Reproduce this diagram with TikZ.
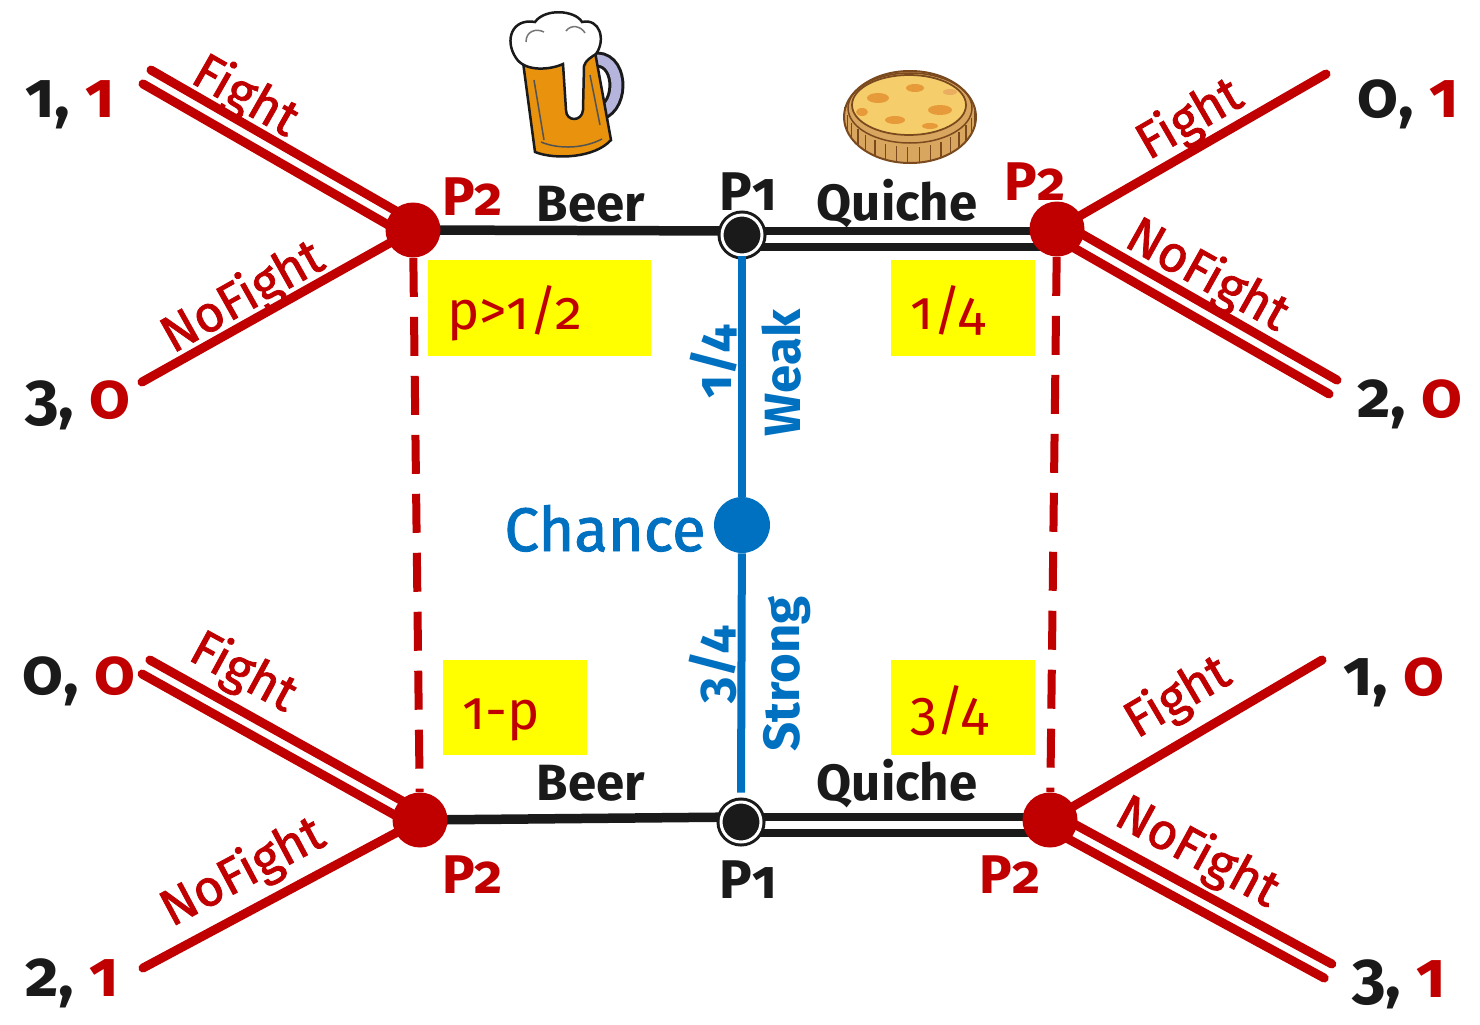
\documentclass[tikz,border=0pt]{standalone}
\usepackage{fontspec}
\setmainfont[Numbers=OldStyle]{Fira Sans}
\newfontfamily\semib[Numbers=OldStyle,FakeBold=1.5]{Fira Sans}
\usetikzlibrary{calc}
\pgfdeclarelayer{bg}
\pgfsetlayers{bg,main}

\definecolor{dred}{HTML}{C00000}
\definecolor{cblue}{HTML}{0070C0}
\definecolor{ink}{HTML}{1A1A1A}
\definecolor{hilite}{HTML}{FFFF00}
\definecolor{ale}{HTML}{E8920E}
\definecolor{alehandle}{HTML}{B4B4DC}
\definecolor{crust}{HTML}{D9A660}
\definecolor{crustdark}{HTML}{7A4A1E}
\definecolor{filling}{HTML}{F5CD6A}
\definecolor{browned}{HTML}{E69A3A}

\newcommand\fsz[1]{\fontsize{#1}{#1}\selectfont}
% two parallel strokes between a node centre and a free end
\newcommand\pairline[2]{%
  \draw[rline] ($(#1.center)!0.16cm!90:(#2)$) -- ($(#2)!0.16cm!-90:(#1.center)$);
  \draw[rline] ($(#1.center)!0.16cm!-90:(#2)$) -- ($(#2)!0.16cm!90:(#1.center)$);}

\begin{document}
\begin{tikzpicture}[x=0.02cm,y=-0.02cm,
  signal/.style={circle,fill=dred,minimum size=1.1cm,inner sep=0pt},
  sender/.style={circle,fill=ink,draw=ink,double=white,double distance=0.06cm,
                 line width=0.06cm,minimum size=0.8cm,inner sep=0pt},
  nature/.style={circle,fill=cblue,minimum size=1.12cm,inner sep=0pt},
  blk/.style={draw=ink,line width=0.19cm},
  blk2/.style={draw=ink,line width=0.17cm},
  rline/.style={draw=dred,line width=0.18cm,line cap=round},
  info/.style={draw=dred,line width=0.16cm,dash pattern=on 0.78cm off 0.4cm},
  bline/.style={draw=cblue,line width=0.16cm},
  move/.style={font=\fsz{29}\bfseries,text=ink,inner sep=0pt,anchor=base},
  player/.style={font=\fsz{31}\bfseries,inner sep=0pt,anchor=base},
  act/.style={font=\fsz{29}\semib,text=dred,inner sep=0pt},
  pay/.style={font=\fsz{37}\bfseries,inner sep=0pt,anchor=base west},
  prob/.style={font=\fsz{29}\bfseries,text=cblue,inner sep=0pt,rotate=90},
  belief/.style={fill=hilite,font=\fsz{31},text=dred,align=left,
                 text height=29pt,text depth=4pt,
                 inner ysep=0pt,inner xsep=0.38cm,minimum height=1.92cm},
]
\useasboundingbox (0,0) rectangle (1480,1024);

% ---------- decision nodes ----------
\node[signal] (tl) at (413,230) {};
\node[sender] (p1t) at (742,235) {};
\node[signal] (tr) at (1057,229) {};
\node[nature] (ch) at (742,525) {};
\node[signal] (bl) at (420,820) {};
\node[sender] (p1b) at (741,822) {};
\node[signal] (br) at (1050,820) {};

% free ends of the responder's branches
\coordinate (tlF) at (147,77);
\coordinate (tlN) at (142,382);
\coordinate (trF) at (1326,74);
\coordinate (trN) at (1333,387);
\coordinate (blF) at (146,667);
\coordinate (blN) at (143,968);
\coordinate (brF) at (1322,660);
\coordinate (brN) at (1328,971);

\begin{pgfonlayer}{bg}
  % sender's messages
  \draw[blk] (tl.center) -- ($(p1t.center)+(0,-4)$);
  \draw[blk2] ($(p1t.center)+(0,-4)$) -- ($(tr.center)+(0,2)$);
  \draw[blk2] ($(p1t.center)+(0,12)$) -- ($(tr.center)+(0,18)$);
  \draw[blk] (bl.center) -- ($(p1b.center)+(0,-5)$);
  \draw[blk2] ($(p1b.center)+(0,-5)$) -- ($(br.center)+(0,-3)$);
  \draw[blk2] ($(p1b.center)+(0,11)$) -- ($(br.center)+(0,13)$);
  % responder's actions
  \pairline{tl}{tlF}
  \draw[rline] (tl.center) -- (tlN);
  \draw[rline] (tr.center) -- (trF);
  \pairline{tr}{trN}
  \pairline{bl}{blF}
  \draw[rline] (bl.center) -- (blN);
  \draw[rline] (br.center) -- (brF);
  \pairline{br}{brN}
\end{pgfonlayer}

% information sets
\draw[info] (tl) -- (bl);
\draw[info] (tr) -- (br);
% chance move
\draw[bline] (p1t) -- (ch);
\draw[bline] (ch) -- ($(p1b.north)+(0,-8)$);

% ---------- labels ----------
\node[player,text=dred] (pa) at (473,215) {P2};
\node[move] (beer1) at (591,221) {Beer};
\node[player,text=ink] (pb) at (748,210) {P1};
\node[move] (qu1) at (897,220) {Quiche};
\node[player,text=dred] (pc) at (1035,200) {P2};
\node[move] (beer2) at (591,800) {Beer};
\node[move] (qu2) at (897,800) {Quiche};
\node[player,text=ink] (pd) at (748,898) {P1};
\node[player,text=dred] (pe) at (473,893) {P2};
\node[player,text=dred] (pf) at (1010,893) {P2};

\node[font=\fsz{35}\semib,text=cblue,inner sep=0pt,anchor=base] (chl) at (605,551) {Chance};
\node[prob] (w1) at (714,362) {1/4};
\node[prob] (w2) at (782,373) {Weak};
\node[prob] (s1) at (713,665) {3/4};
\node[prob] (s2) at (787,674) {Strong};

\node[belief,text width=3.7cm] (b1) at (539.5,308) {p>1/2};
\node[belief,text width=2.12cm] (b2) at (963,308) {1/4};
\node[belief,text width=2.12cm] (b3) at (515,707.5) {1-p};
\node[belief,text width=2.12cm] (b4) at (963,707.5) {3/4};

\node[act,rotate=-29.7] (a1) at (245,97) {Fight};
\node[act,rotate=29.3] (a2) at (243,298) {NoFight};
\node[act,rotate=30] (a3) at (1190,120) {Fight};
\node[act,rotate=-29.2] (a4) at (1207,276) {NoFight};
\node[act,rotate=-28.5] (a5) at (243,673) {Fight};
\node[act,rotate=28] (a6) at (243,873) {NoFight};
\node[act,rotate=30.5] (a7) at (1178,698) {Fight};
\node[act,rotate=-28.5] (a8) at (1197,853) {NoFight};

\node[pay] (u1) at (25,117) {\textcolor{ink}{1,} \textcolor{dred}{1}};
\node[pay] (u2) at (25,418) {\textcolor{ink}{3,} \textcolor{dred}{0}};
\node[pay] (u3) at (1357,117) {\textcolor{ink}{0,} \textcolor{dred}{1}};
\node[pay] (u4) at (1357,417) {\textcolor{ink}{2,} \textcolor{dred}{0}};
\node[pay] (u5) at (22,694) {\textcolor{ink}{0,} \textcolor{dred}{0}};
\node[pay] (u6) at (25,996) {\textcolor{ink}{2,} \textcolor{dred}{1}};
\node[pay] (u7) at (1343,695) {\textcolor{ink}{1,} \textcolor{dred}{0}};
\node[pay] (u8) at (1352,997) {\textcolor{ink}{3,} \textcolor{dred}{1}};

% ---------- mug of beer ----------
\draw[ink,line width=0.32cm,line cap=round] (592,60) .. controls (622,54) and (624,106) .. (600,113);
\draw[alehandle,line width=0.2cm,line cap=round] (592,60) .. controls (622,54) and (624,106) .. (600,113);
\filldraw[fill=ale,draw=ink,line width=0.05cm]
  (523,62) -- (595,52) -- (611,140) .. controls (595,158) and (555,160) .. (535,152) -- cycle;
\draw[ink!75,line width=0.03cm] (534,80) -- (544,140);
\draw[ink!75,line width=0.03cm] (541,142) .. controls (560,150) and (585,148) .. (602,139);
\draw[ink!75,line width=0.03cm] (590,75) -- (600,125);
\filldraw[fill=white,draw=ink,line width=0.05cm]
  (516,58) .. controls (504,40) and (512,18) .. (535,22)
  .. controls (545,8) and (575,10) .. (582,22)
  .. controls (600,18) and (606,40) .. (596,54)
  .. controls (590,58) and (586,60) .. (584,66) -- (583,110)
  .. controls (582,122) and (566,122) .. (566,110) -- (563,64)
  .. controls (550,70) and (525,72) .. (516,58) -- cycle;
\draw[ink!60,line width=0.03cm] (526,42) .. controls (526,31) and (536,28) .. (544,32);
\draw[ink!60,line width=0.03cm] (566,31) .. controls (571,24) and (581,26) .. (585,33);

% ---------- quiche ----------
\filldraw[fill=crust,draw=crustdark,line width=0.04cm] (910,117) ellipse [x radius=66,y radius=46];
\foreach \t in {12,22,...,172}
  \draw[crustdark,line width=0.025cm] ({910+66*cos(\t)},{117+46*sin(\t)}) -- ++(0,-16);
\draw[crustdark,line width=0.03cm] (910,108) ellipse [x radius=62,y radius=35];
\filldraw[fill=filling,draw=crustdark,line width=0.035cm] (909,105) ellipse [x radius=57,y radius=30];
\fill[browned] (878,98) ellipse [x radius=11,y radius=5];
\fill[browned] (915,88) ellipse [x radius=9,y radius=4];
\fill[browned] (940,110) ellipse [x radius=12,y radius=5];
\fill[browned] (895,120) ellipse [x radius=10,y radius=4];
\fill[browned] (930,126) ellipse [x radius=8,y radius=3];
\fill[browned] (862,112) ellipse [x radius=6,y radius=4];
\fill[browned!80!white] (950,92) ellipse [x radius=7,y radius=3];
\end{tikzpicture}
\end{document}
